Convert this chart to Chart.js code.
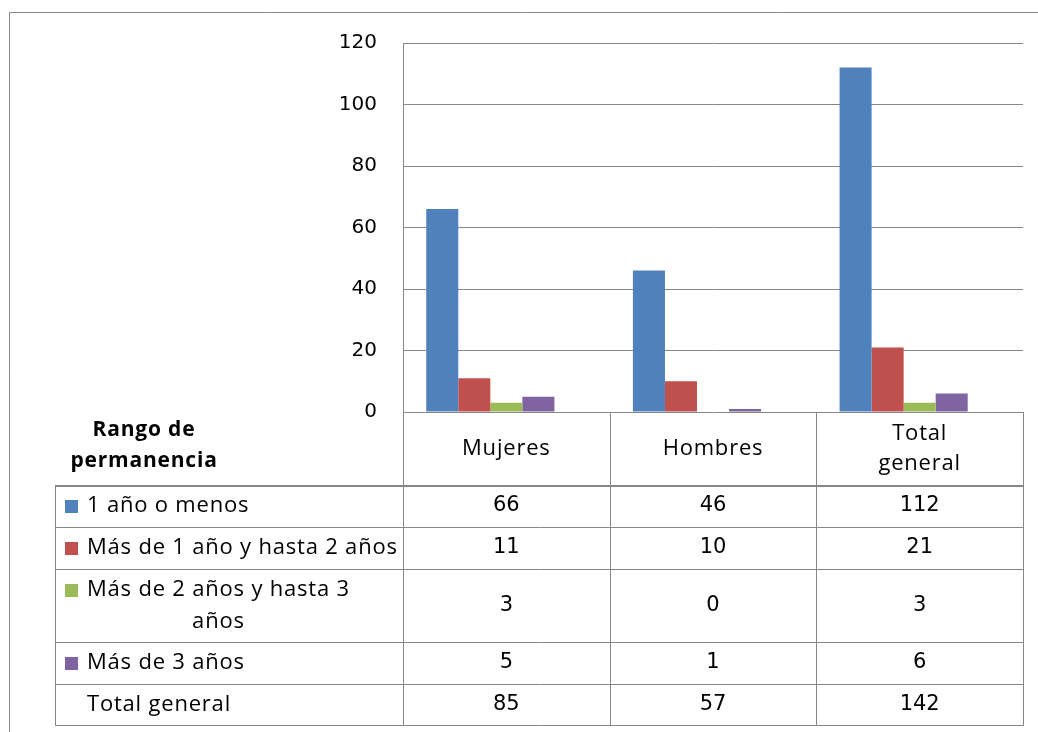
<!DOCTYPE html>
<html>
<head>
<meta charset="utf-8">
<script src="https://cdn.jsdelivr.net/npm/chart.js@4"></script>
<style>
  body { margin: 0; background: #fff; }
  #wrap { width: 1038px; height: 732px; }
</style>
</head>
<body>
<div id="wrap"><canvas id="permanenciaCanvas" width="1038" height="732"></canvas></div>
<script>
// categories (columns of the data table)
const categories = ["Mujeres", "Hombres", "Total general"];

// series names, same order as the rows of the table
const seriesNames = [
    "1 año o menos",
    "Más de 1 año y hasta 2 años",
    "Más de 2 años y hasta 3 años",
    "Más de 3 años",
    "Total general"
];

// values per series
const unAnoOMenos = [66, 46, 112];
const deUnoADos = [11, 10, 21];
const deDosATres = [3, 0, 3];
const masDeTres = [5, 1, 6];
const totalGeneral = [85, 57, 142];

// y axis
const yMin = 0;
const yMax = 120;
const yStep = 20;

const seriesColors = ["#4F81BD", "#C0504D", "#9BBB59", "#8064A2", "rgba(0,0,0,0)"];
const seriesValues = [unAnoOMenos, deUnoADos, deDosATres, masDeTres, totalGeneral];

const lineColor = "#878787";
const textFont = "'Open Sans'";
const numFont = "DejaVu Sans";

// table rows, y of each horizontal line below the header
const rowLines = [485, 527, 569, 642, 684, 725];
const tableLeft = 55;

function wrapText(ctx, text, maxWidth) {
    const words = text.split(" ");
    let lines = [];
    let cur = "";
    for (const w of words) {
        const test = cur ? cur + " " + w : w;
        if (ctx.measureText(test).width > maxWidth && cur) {
            lines.push(cur);
            cur = w;
        } else {
            cur = test;
        }
    }
    lines.push(cur);
    return lines;
}

const dataTablePlugin = {
    id: "dataTable",
    afterDraw(chart) {
        const ctx = chart.ctx;
        const xs = chart.scales.x;
        const area = chart.chartArea;
        const step = (xs.right - xs.left) / categories.length;
        let cols = [xs.left];
        for (let i = 0; i < categories.length; i++) {
            cols.push(xs.left + step * (i + 1));
        }
        const headerTop = area.bottom;
        const bottom = rowLines[rowLines.length - 1];

        ctx.save();
        ctx.strokeStyle = lineColor;
        ctx.lineWidth = 1;

        // outer chart border (runs off the picture on the right and bottom)
        ctx.beginPath();
        ctx.moveTo(9.5, 760);
        ctx.lineTo(9.5, 12.5);
        ctx.lineTo(1060, 12.5);
        ctx.stroke();

        // vertical lines of the value columns
        ctx.beginPath();
        for (const c of cols) {
            const x = Math.round(c) + 0.5;
            ctx.moveTo(x, headerTop);
            ctx.lineTo(x, bottom);
        }
        ctx.moveTo(tableLeft + 0.5, rowLines[0]);
        ctx.lineTo(tableLeft + 0.5, bottom);
        ctx.stroke();

        // horizontal lines
        ctx.beginPath();
        for (let i = 1; i < rowLines.length; i++) {
            ctx.moveTo(tableLeft, rowLines[i] + 0.5);
            ctx.lineTo(cols[cols.length - 1] + 1, rowLines[i] + 0.5);
        }
        ctx.stroke();
        ctx.lineWidth = 2;
        ctx.beginPath();
        ctx.moveTo(tableLeft, rowLines[0] + 1);
        ctx.lineTo(cols[cols.length - 1] + 1, rowLines[0] + 1);
        ctx.stroke();

        ctx.fillStyle = "#000";
        ctx.textBaseline = "middle";
        ctx.letterSpacing = "0.8px";

        // header: row title
        ctx.font = "bold 21px " + textFont;
        ctx.textAlign = "center";
        ctx.fillText("Rango de", 144, 430);
        ctx.fillText("permanencia", 144, 461);

        // header: category names
        ctx.font = "22px " + textFont;
        const headMid = (headerTop + rowLines[0]) / 2;
        categories.forEach((cat, i) => {
            const cx = (cols[i] + cols[i + 1]) / 2;
            const lines = cat.indexOf(" ") > 0 ? cat.split(" ") : [cat];
            const lh = 30;
            lines.forEach((ln, k) => {
                ctx.fillText(ln, cx, headMid + (k - (lines.length - 1) / 2) * lh);
            });
        });

        // body rows
        seriesNames.forEach((name, r) => {
            const top = rowLines[r];
            const bot = rowLines[r + 1];
            const mid = (top + bot) / 2;

            // series label
            ctx.fillStyle = "#000";
            ctx.font = "22px " + textFont;
            ctx.letterSpacing = "0.8px";
            const lines = wrapText(ctx, name, 316);
            const firstW = ctx.measureText(lines[0]).width;
            const firstCenter = 87 + firstW / 2;
            const lh = 32;
            const firstY = mid - (lines.length - 1) / 2 * lh;
            lines.forEach((ln, k) => {
                const y = firstY + k * lh;
                if (k === 0) {
                    ctx.textAlign = "left";
                    ctx.fillText(ln, 87, y);
                } else {
                    ctx.textAlign = "center";
                    ctx.fillText(ln, firstCenter, y);
                }
            });

            // legend key, next to the first line
            if (seriesColors[r] !== "rgba(0,0,0,0)") {
                ctx.fillStyle = seriesColors[r];
                ctx.fillRect(65, Math.round(firstY - 6), 13, 13);
            }

            // values
            ctx.fillStyle = "#000";
            ctx.font = "21px " + numFont;
            ctx.letterSpacing = "0px";
            ctx.textAlign = "center";
            seriesValues[r].forEach((v, i) => {
                ctx.fillText(String(v), (cols[i] + cols[i + 1]) / 2, mid);
            });
        });

        ctx.restore();
    }
};

function makeDatasets() {
    let datasets = [];
    for (let i = 0; i < seriesNames.length; i++) {
        datasets.push({
            label: seriesNames[i],
            data: seriesValues[i],
            backgroundColor: seriesColors[i],
            borderWidth: 0
        });
    }
    return datasets;
}

const permanenciaChart = new Chart(document.querySelector("#permanenciaCanvas"), {
    type: "bar",
    data: {
        labels: categories,
        datasets: makeDatasets()
    },
    options: {
        responsive: false,
        animation: false,
        events: [],
        datasets: {
            bar: {
                categoryPercentage: 0.775,
                barPercentage: 1
            }
        },
        layout: {
            padding: { top: 43, bottom: 320, left: 0, right: 15 }
        },
        plugins: {
            legend: { display: false },
            tooltip: { enabled: false },
            title: { display: false }
        },
        scales: {
            x: {
                ticks: { display: false },
                grid: { display: false, drawTicks: false },
                border: { display: false }
            },
            y: {
                min: yMin,
                max: yMax,
                ticks: {
                    stepSize: yStep,
                    padding: 26,
                    color: "#000",
                    font: { family: numFont, size: 20 }
                },
                grid: { color: lineColor, drawTicks: false, lineWidth: 1 },
                border: { color: lineColor, width: 1 },
                afterFit(scale) {
                    scale.width = 403;
                }
            }
        }
    },
    plugins: [dataTablePlugin]
});
</script>
</body>
</html>
